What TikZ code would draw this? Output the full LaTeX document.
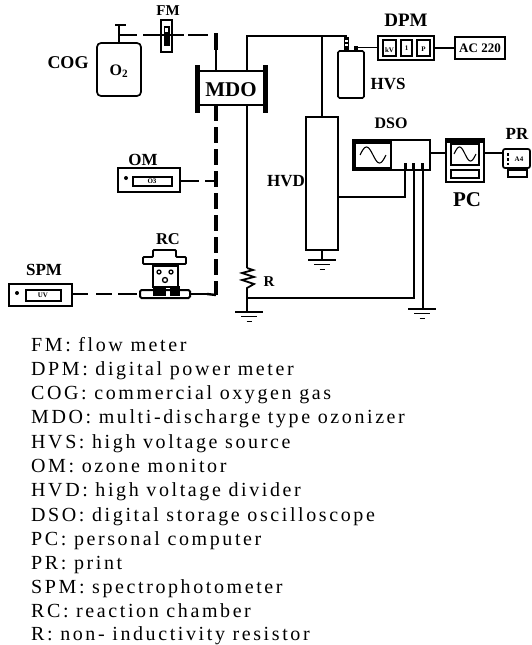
\documentclass[tikz,border=0pt]{standalone}
\usepackage{fontspec}
\setmainfont{Liberation Serif}
\newfontfamily\legendfont[LetterSpace=13]{Liberation Serif}
\newcommand\rbox[6][]{\pgfmathsetmacro\cxx{(#3+#5)/2}\pgfmathsetmacro\cyy{(#4+#6)/2}\pgfmathsetmacro\wxx{#5-#3}\pgfmathsetmacro\hyy{#6-#4}\node[boxed,minimum width=\wxx pt,minimum height=\hyy pt,#1] (#2) at (\cxx,\cyy) {};}
\newcommand\gndsym[3]{\coordinate (#1) at (#2,#3);
 \draw[wire] (#2-14,#3) -- (#2+14,#3);
 \draw[wire] (#2-8,#3+4.5) -- (#2+8,#3+4.5);
 \draw[wire] (#2-2.5,#3+9.5) -- (#2+2.5,#3+9.5);}
\newcommand\sinewave[4]{\draw[line width=1.1pt] plot[domain=0:1,samples=30,smooth] ({#1+#3*\x},{#2-#4*sin(360*\x)});}
\newcommand\labfont[1]{\bfseries\fontsize{#1}{#1}\selectfont}
\tikzset{
 boxed/.style={draw,line width=1.7pt,inner sep=0pt,outer sep=0pt,rectangle},
 wire/.style={line width=1.6pt},
 gas/.style={line width=3.2pt,dash pattern=on 16pt off 6pt},
 lab/.style={inner sep=0pt},
 tiny/.style={font=\labfont{7}\relax,inner sep=0pt},
 legend/.style={font=\legendfont\fontsize{20}{20}\selectfont,anchor=base west,inner sep=0pt},
}
\begin{document}
\begin{tikzpicture}[x=1pt,y=-1pt]
\useasboundingbox (0,0) rectangle (531,645);
% labels
\node[lab,font=\labfont{15}] (lfm) at (168,11) {FM};
\node[lab,font=\labfont{18}] (lcog) at (68,63) {COG};
\node[lab,font=\labfont{21}] (lmdo) at (231,90) {MDO};
\node[lab,font=\labfont{17}] (lom) at (143,160) {OM};
\node[lab,font=\labfont{17}] (lspm) at (44,270) {SPM};
\node[lab,font=\labfont{16.5}] (lrc) at (168,239) {RC};
\node[lab,font=\labfont{15}] (lr) at (269,282) {R};
\node[lab,font=\labfont{17}] (lhvd) at (286,181) {HVD};
\node[lab,font=\labfont{17}] (lhvs) at (388,84) {HVS};
\node[lab,font=\labfont{16}] (ldso) at (391,123) {DSO};
\node[lab,font=\labfont{19}] (ldpm) at (406,20) {DPM};
\node[lab,font=\labfont{21}] (lpc) at (467,200) {PC};
\node[lab,font=\labfont{17}] (lpr) at (517,134) {PR};
% oxygen
\rbox[rounded corners=4pt]{cog}{97}{43}{141}{96}
\node[lab,font=\labfont{16}] (oo) at (119,71) {O\textsubscript{2}};
\coordinate (cv) at (119,35);
\coordinate (ct) at (119,25);
\draw[wire] (cog.north) -- (ct);
\draw[wire] (115,25) -- (126,25);
\rbox[line width=1.8pt]{fm}{161}{20}{172}{52}
\fill (163.5,26) rectangle (169.5,46);
\fill[white] (165,28) rectangle (168,32);
\draw[line width=1.6pt] (cv) -- (137,35);
\draw[line width=2pt] (143,35) -- (184,35);
\draw[line width=1.6pt] (188,35) -- (208,35);
% MDO
\rbox[line width=2pt]{mdo}{197}{71}{266}{105}
\draw[line width=5pt] (197,65) -- (197,113);
\draw[line width=5pt] (265,65) -- (265,113);
\coordinate (mdotl) at (216,71);
\coordinate (mdobl) at (216,105);
\coordinate (mdotr) at (247,71);
\coordinate (mdobr) at (247,105);
\draw[line width=3.2pt] (216,33) -- (216,50);
\draw[line width=1.8pt] (216,50) -- (mdotl);
\coordinate (gcorner) at (216,295);
\draw[gas] (mdobl) -- (gcorner);
% OM
\rbox{om}{118}{168}{180}{192}
\rbox[line width=2pt]{omin}{133}{177}{172}{186}
\node[tiny] (omt) at (152,181.5) {O3};
\fill (126,178) circle (2);
\draw[line width=2.4pt] (om.east |- 0,181) -- (199,181);
\draw[line width=2.8pt] (205,181) -- (216,181);
% SPM
\rbox{spm}{9}{284}{72}{306}
\rbox[line width=2pt]{spmin}{26}{290}{61}{301}
\node[tiny] (spmt) at (43,295.5) {UV};
\fill (17,293) circle (2);
\draw[line width=2.6pt] (spm.east |- 0,294) -- (88,294);
\draw[line width=2.6pt] (96,294) -- (112,294);
\draw[line width=2.6pt] (118,294) -- (137,294);
% RC
\rbox[line width=2pt,rounded corners=1.5pt]{rcb}{140}{290}{190}{298}
\rbox[fill=white]{rcbody}{153}{266}{178}{287}
\fill (153,286) rectangle (166,296);
\fill (170,286) rectangle (180,296);
\draw[line width=1.8pt,fill=white,rounded corners=1pt] (143,264) -- (143,257) -- (153,257) -- (153,250) -- (176,250) -- (176,257) -- (186,257) -- (186,264) -- cycle;
\draw[line width=1.3pt] (159,272) circle (2);
\draw[line width=1.3pt] (171,272) circle (2);
\draw[line width=1.3pt] (165,280) circle (2.5);
\draw[line width=2.4pt] (rcb.east |- 0,294) -- (207,294);
\draw[line width=2.4pt] (207,294) -- (gcorner);
% HV wiring
\coordinate (tw) at (247,36);
\coordinate (tj) at (322,36);
\coordinate (te) at (347,36);
\draw[wire] (mdotr) -- (tw) -- (te);
\rbox[wire,rounded corners=1.5pt]{hvs}{338}{51}{364}{98}
\fill (344,37) rectangle (349,51);
\fill[white] (345.2,40) rectangle (347.8,41.5);
\fill[white] (345.2,44) rectangle (347.8,45.5);
\fill (354,46) rectangle (358,51);
\rbox{hvd}{306}{117}{338}{250}
\draw[wire] (tj) -- (hvd.north);
\coordinate (hgt) at (322,260);
\draw[wire] (hvd.south) -- (hgt);
\gndsym{hg}{322}{260}
% R
\coordinate (rtop) at (247,268);
\coordinate (rbot) at (247,290);
\coordinate (rj) at (247,298);
\draw[wire] (mdobr) -- (rtop);
\draw[line width=1.8pt] (rtop) -- (253,270) -- (242,273) -- (254,277) -- (242,280) -- (254,284) -- (247,288) -- (rbot);
\gndsym{rg}{249}{312}
\draw[wire] (rbot) -- (247,312);
% DPM
\rbox{dpm}{378}{36}{434}{60}
\rbox{d1}{383}{40}{396}{56}
\rbox{d2}{401}{40}{412}{56}
\rbox{d3}{417}{40}{430}{56}
\node[tiny] (d1t) at (389.5,50) {kV};
\node[tiny] (d2t) at (406.5,48) {1};
\node[tiny] (d3t) at (423.5,49) {P};
\draw[wire] (358,47.5) -- (dpm.west |- 0,47.5);
\rbox{ac}{455}{37}{505}{59}
\node[lab,font=\labfont{13}] (act) at (480,48) {AC 220};
\draw[wire] (dpm.east) -- (ac.west);
% DSO
\rbox{dso}{353}{140}{430}{170}
\rbox[line width=2pt]{dscr}{355}{143}{391}{168}
\fill (354,140) rectangle (392,144);
\sinewave{360}{155}{26}{8}
\fill (403.5,163) rectangle (406.5,170);
\fill (412,163) rectangle (415,170);
\fill (421,163) rectangle (424,170);
\coordinate (p1) at (405,170);
\coordinate (p2) at (414,170);
\coordinate (p3) at (423,170);
\draw[wire] (p1) -- (405,197) -- (hvd.east |- 0,197);
\draw[line width=1.9pt] (p2) -- (414,298) -- (rj);
\draw[line width=1.9pt] (p3) -- (423,309);
\gndsym{dg}{422}{309}
% PC
\rbox[line width=2pt]{pc}{446}{139}{484}{182}
\fill (446,139) rectangle (484,143);
\rbox[wire]{pcs}{451}{144}{479}{165}
\sinewave{454}{154}{22}{7}
\rbox[wire]{pck}{451}{170}{479}{178}
\draw[line width=1.2pt] (dso.east |- 0,153) -- (pc.west |- 0,153);
% PR
\rbox[rounded corners=2pt]{pr}{503}{149}{530}{168}
\rbox{prp}{508}{170}{527}{177}
\node[tiny] (a4) at (519,159) {A4};
\fill (507,153) rectangle (509,156);
\fill (507,158) rectangle (509,161);
\fill (507,163) rectangle (509,165);
\draw[line width=1.2pt] (pc.east |- 0,153) -- (pr.west |- 0,153);
% legend
\node[legend] (t1) at (31,351) {FM: flow meter};
\node[legend] (t2) at (31,375) {DPM: digital power meter};
\node[legend] (t3) at (31,399) {COG: commercial oxygen gas};
\node[legend] (t4) at (31,423) {MDO: multi-discharge type ozonizer};
\node[legend] (t5) at (31,448) {HVS: high voltage source};
\node[legend] (t6) at (31,472) {OM: ozone monitor};
\node[legend] (t7) at (31,496) {HVD: high voltage divider};
\node[legend] (t8) at (31,521) {DSO: digital storage oscilloscope};
\node[legend] (t9) at (31,545) {PC: personal computer};
\node[legend] (t10) at (31,569) {PR: print};
\node[legend] (t11) at (31,593) {SPM: spectrophotometer};
\node[legend] (t12) at (31,617) {RC: reaction chamber};
\node[legend] (t13) at (31,640) {R: non- inductivity resistor};
\end{tikzpicture}
\end{document}
